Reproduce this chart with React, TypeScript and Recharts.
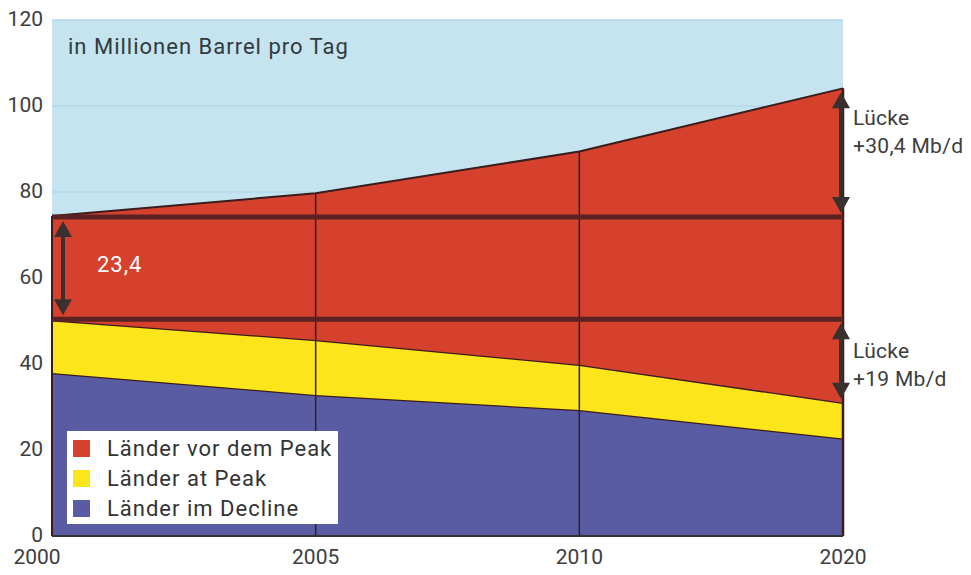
import React from 'react';
import {
  AreaChart,
  Area,
  XAxis,
  YAxis,
  CartesianGrid,
  ReferenceLine,
} from 'recharts';

const years = ['2000', '2005', '2010', '2020'];
const decline = [37.9, 32.8, 29.3, 22.7];
const atPeak = [12.3, 12.8, 10.5, 8.3];
const beforePeak = [24.2, 34.1, 49.6, 73.1];
const yTicks = [0, 20, 40, 60, 80, 100, 120];
// Niveau 2000 (obere und untere Grenze der Länder vor dem Peak)
const levels = [74.2, 50.4];

const seriesNames = ['Länder vor dem Peak', 'Länder at Peak', 'Länder im Decline'];
const seriesColors = ['#d6412e', '#fde51c', '#5a5ca3'];

const data = years.map((year, i) => ({
  year,
  decline: decline[i],
  atPeak: atPeak[i],
  beforePeak: beforePeak[i],
}));

const totals = years.map((_, i) => decline[i] + atPeak[i] + beforePeak[i]);
const yellowTops = years.map((_, i) => decline[i] + atPeak[i]);
const last = years.length - 1;

const font = 'Roboto, "Liberation Sans", sans-serif';
const dark = '#3a1c1c';

const Arrow = (props: any) => {
  const { x1, y1, x2, y2, dx = 0 } = props;
  if (x1 == null || y1 == null) return null;
  const x = x1 + dx;
  const top = Math.min(y1, y2) + 4;
  const bottom = Math.max(y1, y2) - 4;
  const hw = 9;
  const hh = 16;
  return (
    <g>
      <line x1={x} y1={top + 8} x2={x} y2={bottom - 8} stroke="#3a3030" strokeWidth={4} />
      <polygon points={`${x},${top} ${x - hw},${top + hh} ${x + hw},${top + hh}`} fill="#3a3030" />
      <polygon points={`${x},${bottom} ${x - hw},${bottom - hh} ${x + hw},${bottom - hh}`} fill="#3a3030" />
    </g>
  );
};

const XTick = ({ x, y, payload, index }: any) => (
  <text
    x={index === 0 ? x - 15 : x}
    y={y + 20}
    textAnchor="middle"
    fontFamily={font}
    fontSize={21}
    fill="#3d3d3d"
  >
    {payload.value}
  </text>
);

const YTick = ({ y, payload }: any) => (
  <text x={43} y={y + 6} textAnchor="end" fontFamily={font} fontSize={21} fill="#3d3d3d">
    {payload.value}
  </text>
);

const textStyle: React.CSSProperties = {
  position: 'absolute',
  fontFamily: font,
  fontSize: 22,
  letterSpacing: 1,
  color: '#3d3d3d',
  lineHeight: '28px',
  whiteSpace: 'nowrap',
};

const noteStyle: React.CSSProperties = { ...textStyle, fontSize: 21, letterSpacing: 0.3 };

const LegendBox = () => (
  <div
    style={{
      position: 'absolute',
      left: 67,
      top: 431,
      background: '#fff',
      width: 271,
      height: 93,
      padding: '2px 0 0 6px',
      boxSizing: 'border-box',
      fontFamily: font,
      fontSize: 22,
      letterSpacing: 1,
      color: '#333',
    }}
  >
    {seriesNames.map((name, i) => (
      <div key={name} style={{ display: 'flex', alignItems: 'center', height: 30 }}>
        <span
          style={{
            display: 'inline-block',
            width: 17,
            height: 17,
            background: seriesColors[i],
            marginRight: 17,
          }}
        />
        {name}
      </div>
    ))}
  </div>
);

export default function App() {
  return (
    <div style={{ position: 'absolute', left: 0, top: 0, width: 971, height: 575, background: '#fff' }}>
      <AreaChart
        width={971}
        height={575}
        data={data}
        margin={{ top: 20, right: 128, bottom: 9, left: 0 }}
      >
        <CartesianGrid vertical={false} fill="#c6e4ef" stroke="#b2d8e6" strokeWidth={1.5} />
        <XAxis
          dataKey="year"
          padding={{ left: 0, right: 0 }}
          height={30}
          axisLine={{ stroke: '#333', strokeWidth: 2 }}
          tickLine={false}
          tick={<XTick />}
          interval={0}
        />
        <YAxis
          width={52}
          domain={[0, 120]}
          ticks={yTicks}
          axisLine={false}
          tickLine={false}
          tick={<YTick />}
        />
        <Area
          type="linear"
          dataKey="decline"
          stackId="a"
          fill={seriesColors[2]}
          fillOpacity={1}
          stroke={dark}
          strokeWidth={2.5}
          isAnimationActive={false}
        />
        <Area
          type="linear"
          dataKey="atPeak"
          stackId="a"
          fill={seriesColors[1]}
          fillOpacity={1}
          stroke={dark}
          strokeWidth={2.5}
          isAnimationActive={false}
        />
        <Area
          type="linear"
          dataKey="beforePeak"
          stackId="a"
          fill={seriesColors[0]}
          fillOpacity={1}
          stroke={dark}
          strokeWidth={2}
          isAnimationActive={false}
        />
        {years.slice(1, last).map((yr, i) => (
          <ReferenceLine
            key={yr}
            segment={[
              { x: yr, y: 0 },
              { x: yr, y: totals[i + 1] },
            ]}
            stroke="#2b2030"
            strokeWidth={1.5}
          />
        ))}
        <ReferenceLine
          segment={[
            { x: years[last], y: 0 },
            { x: years[last], y: totals[last] },
          ]}
          stroke={dark}
          strokeWidth={2.5}
        />
        <ReferenceLine
          segment={[
            { x: years[0], y: 0 },
            { x: years[0], y: totals[0] },
          ]}
          stroke={dark}
          strokeWidth={2}
        />
        {levels.map((lv) => (
          <ReferenceLine key={lv} y={lv} stroke="#5a2222" strokeWidth={5} />
        ))}
        <ReferenceLine
          segment={[
            { x: years[0], y: levels[0] },
            { x: years[0], y: levels[1] },
          ]}
          shape={(p: any) => <Arrow {...p} dx={11} />}
        />
        <ReferenceLine
          segment={[
            { x: years[last], y: totals[last] },
            { x: years[last], y: levels[0] },
          ]}
          shape={(p: any) => <Arrow {...p} dx={-2} />}
        />
        <ReferenceLine
          segment={[
            { x: years[last], y: levels[1] },
            { x: years[last], y: yellowTops[last] },
          ]}
          shape={(p: any) => <Arrow {...p} dx={-2} />}
        />
      </AreaChart>
      <LegendBox />
      <div style={{ ...textStyle, left: 68, top: 33, color: '#2f3a40' }}>in Millionen Barrel pro Tag</div>
      <div style={{ ...textStyle, left: 97, top: 251, color: '#fff' }}>23,4</div>
      <div style={{ ...noteStyle, left: 853, top: 104 }}>
        Lücke
        <br />
        +30,4 Mb/d
      </div>
      <div style={{ ...noteStyle, left: 853, top: 337 }}>
        Lücke
        <br />
        +19 Mb/d
      </div>
    </div>
  );
}
